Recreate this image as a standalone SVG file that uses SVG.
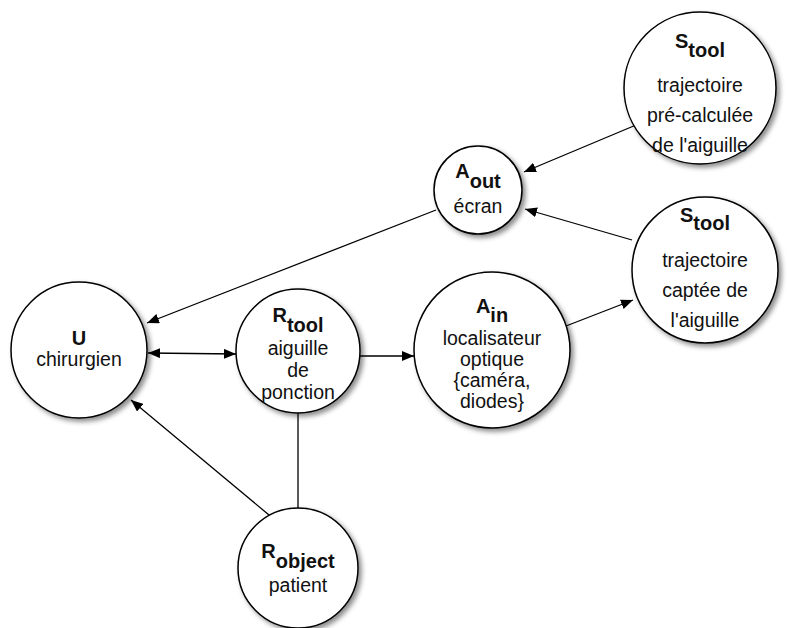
<svg xmlns="http://www.w3.org/2000/svg" width="787" height="628" viewBox="0 0 787 628">
  <defs>
    <filter id="shadow" x="-20%" y="-20%" width="150%" height="150%">
      <feDropShadow dx="3" dy="3" stdDeviation="2.5" flood-color="#000" flood-opacity="0.45"/>
    </filter>
    <marker id="arrow" viewBox="0 0 12 10" refX="12" refY="5" markerWidth="12" markerHeight="10" markerUnits="userSpaceOnUse" orient="auto-start-reverse">
      <path d="M0,0 L12,5 L0,10 Z" fill="#000"/>
    </marker>
    <style>
      .node { fill: #fff; stroke: #000; stroke-width: 1.5; filter: url(#shadow); }
      .edge { fill: none; stroke: #000; stroke-width: 1.3; }
      text { font-family: "Liberation Sans", Arial, sans-serif; font-size: 19.5px; fill: #111; text-anchor: middle; }
      .title { font-weight: bold; font-size: 20px; }
    </style>
  </defs>

  <!-- connectors -->
  <g id="connectors">
    <line class="edge" x1="636" y1="125" x2="524" y2="172" marker-end="url(#arrow)"/>
    <line class="edge" x1="632" y1="240" x2="525" y2="209" marker-end="url(#arrow)"/>
    <line class="edge" x1="436" y1="210" x2="147" y2="323" marker-end="url(#arrow)"/>
    <line class="edge" x1="148" y1="353" x2="236" y2="354" marker-start="url(#arrow)" marker-end="url(#arrow)"/>
    <line class="edge" x1="360" y1="356" x2="414" y2="356" marker-end="url(#arrow)"/>
    <line class="edge" x1="566" y1="326" x2="633" y2="300" marker-end="url(#arrow)"/>
    <line class="edge" x1="275" y1="520" x2="131" y2="400" marker-end="url(#arrow)"/>
    <line class="edge" x1="298" y1="412" x2="298" y2="508"/>
  </g>

  <!-- S_tool: precomputed trajectory -->
  <g id="stool-precalc">
    <circle class="node" cx="700" cy="88" r="76"/>
    <text x="700" y="48" class="title"><tspan>S</tspan><tspan dy="9">tool</tspan></text>
    <text x="700" y="92">trajectoire</text>
    <text x="700" y="122">pré-calculée</text>
    <text x="700" y="152">de l'aiguille</text>
  </g>

  <!-- A_out: screen -->
  <g id="aout">
    <circle class="node" cx="478" cy="190" r="44"/>
    <text x="478" y="178" class="title"><tspan>A</tspan><tspan dy="10">out</tspan></text>
    <text x="478" y="213">écran</text>
  </g>

  <!-- S_tool: sensed trajectory -->
  <g id="stool-sensed">
    <circle class="node" cx="705" cy="270" r="73"/>
    <text x="705" y="222" class="title"><tspan>S</tspan><tspan dy="8">tool</tspan></text>
    <text x="705" y="267">trajectoire</text>
    <text x="705" y="297">captée de</text>
    <text x="705" y="327">l'aiguille</text>
  </g>

  <!-- U: surgeon -->
  <g id="u">
    <circle class="node" cx="79" cy="350" r="68"/>
    <text x="79" y="345" class="title">U</text>
    <text x="79" y="366">chirurgien</text>
  </g>

  <!-- R_tool: puncture needle -->
  <g id="rtool">
    <circle class="node" cx="298" cy="351" r="62"/>
    <text x="298" y="322" class="title"><tspan>R</tspan><tspan dy="10">tool</tspan></text>
    <text x="298" y="355">aiguille</text>
    <text x="298" y="377">de</text>
    <text x="298" y="399">ponction</text>
  </g>

  <!-- A_in: optical tracker -->
  <g id="ain">
    <circle class="node" cx="492" cy="350" r="78"/>
    <text x="492" y="313" class="title"><tspan>A</tspan><tspan dy="9">in</tspan></text>
    <text x="492" y="345">localisateur</text>
    <text x="492" y="366">optique</text>
    <text x="492" y="387">{caméra,</text>
    <text x="492" y="408">diodes}</text>
  </g>

  <!-- R_object: patient -->
  <g id="robject">
    <circle class="node" cx="298" cy="568" r="60"/>
    <text x="298" y="558" class="title"><tspan>R</tspan><tspan dy="10">object</tspan></text>
    <text x="298" y="592">patient</text>
  </g>
</svg>
